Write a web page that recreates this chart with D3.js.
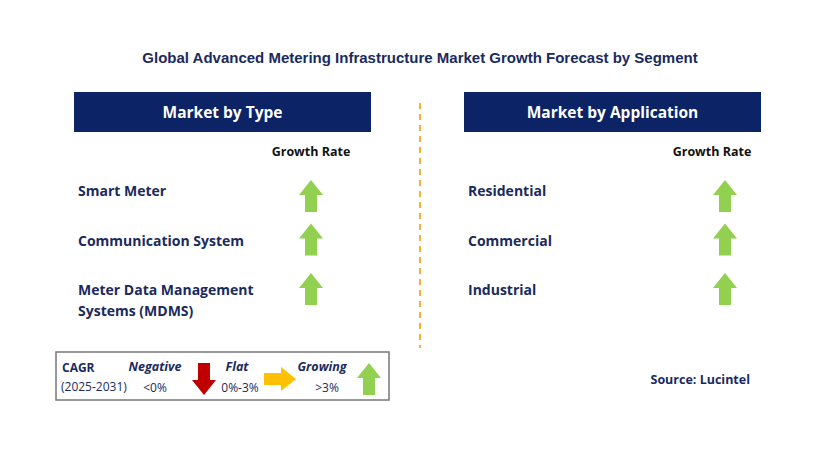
<!DOCTYPE html>
<html><head><meta charset="utf-8">
<script src="https://cdn.jsdelivr.net/npm/d3@7"></script>
<style>body{margin:0;background:#fff}</style></head>
<body><svg id="c" width="829" height="460"></svg>
<script>
const title = "Global Advanced Metering Infrastructure Market Growth Forecast by Segment";
const typeHeader = "Market by Type";
const appHeader = "Market by Application";
const typeSegments = [["Smart Meter"], ["Communication System"], ["Meter Data Management", "Systems (MDMS)"]];
const typeGrowth = ["Growing", "Growing", "Growing"];
const appSegments = [["Residential"], ["Commercial"], ["Industrial"]];
const appGrowth = ["Growing", "Growing", "Growing"];
const legendLabels = ["Negative", "Flat", "Growing"];
const legendRanges = ["<0%", "0%-3%", ">3%"];
const source = "Source: Lucintel";

const navy = "#0c2365", txt = "#1b2a5e";
const svg = d3.select("#c");
const F = "'Open Sans', Arial, sans-serif";
const arrowColor = {Growing: "#92d050", Flat: "#ffc000", Negative: "#c00000"};

function arrow(g, x, y, kind) {
  const p = [[0,-16],[12,-1],[6,-1],[6,16],[-6,16],[-6,-1],[-12,-1]];
  let rot = kind === "Growing" ? 0 : kind === "Negative" ? 180 : 90;
  g.append("path").attr("d", d3.line()(p) + "Z")
    .attr("transform", `translate(${x},${y}) rotate(${rot})`)
    .attr("fill", arrowColor[kind]);
}

svg.append("text").attr("x", 420).attr("y", 63).attr("text-anchor", "middle")
  .attr("font-family", "'Liberation Sans', Arial, sans-serif").attr("font-weight", "bold").attr("font-size", 15).attr("fill", txt).text(title);

svg.append("line").attr("x1", 420).attr("x2", 420).attr("y1", 103).attr("y2", 348)
  .attr("stroke", "#f5b335").attr("stroke-width", 2).attr("stroke-dasharray", "6,5");

const rowY = d3.scalePoint().domain([0,1,2]).range([191, 290]);

function panel(x0, header, segs, growth, arrowX, headX) {
  const g = svg.append("g");
  g.append("rect").attr("x", x0).attr("y", 92).attr("width", 297).attr("height", 40).attr("fill", navy);
  g.append("text").attr("x", x0 + 148.5).attr("y", 118).attr("text-anchor", "middle")
    .attr("font-family", F).attr("font-weight", "bold").attr("font-size", 15.5).attr("fill", "#fff").text(header);
  g.append("text").attr("x", headX).attr("y", 156).attr("text-anchor", "middle")
    .attr("font-family", F).attr("font-weight", "bold").attr("font-size", 12.5).attr("fill", "#111").text("Growth Rate");
  segs.forEach((lines, i) => {
    const y = rowY(i);
    lines.forEach((l, j) => g.append("text").attr("x", x0 + 4).attr("y", y + 5 + j * 21)
      .attr("font-family", F).attr("font-weight", "bold").attr("font-size", 14).attr("fill", txt).text(l));
    arrow(g, arrowX, (i === 0 ? y + 6 : y) - 1, growth[i]);
  });
}
panel(74, typeHeader, typeSegments, typeGrowth, 311, 311);
panel(464, appHeader, appSegments, appGrowth, 725, 712);

const lg = svg.append("g");
lg.append("rect").attr("x", 56).attr("y", 352).attr("width", 333).attr("height", 48)
  .attr("fill", "#fff").attr("stroke", "#777").attr("stroke-width", 1.5);
lg.append("text").attr("x", 62).attr("y", 372).attr("font-family", F).attr("font-weight", "bold")
  .attr("font-size", 12).attr("fill", txt).text("CAGR");
lg.append("text").attr("x", 61).attr("y", 391).attr("font-family", F)
  .attr("font-size", 12).attr("fill", txt).text("(2025-2031)");
const lx = [155, 237, 322], ax = [204, 280, 369], rx = [155, 240, 327];
legendLabels.forEach((l, i) => {
  lg.append("text").attr("x", lx[i]).attr("y", 371).attr("text-anchor", "middle").attr("font-family", F)
    .attr("font-weight", "bold").attr("font-style", "italic").attr("font-size", 12.5).attr("fill", txt).text(l);
  lg.append("text").attr("x", rx[i]).attr("y", 392).attr("text-anchor", "middle").attr("font-family", F)
    .attr("font-size", 12).attr("fill", txt).text(legendRanges[i]);
  arrow(lg, ax[i], 379, l);
});
svg.append("text").attr("x", 750).attr("y", 384).attr("text-anchor", "end").attr("font-family", F)
  .attr("font-weight", "bold").attr("font-size", 12.5).attr("fill", txt).text(source);
</script></body></html>
